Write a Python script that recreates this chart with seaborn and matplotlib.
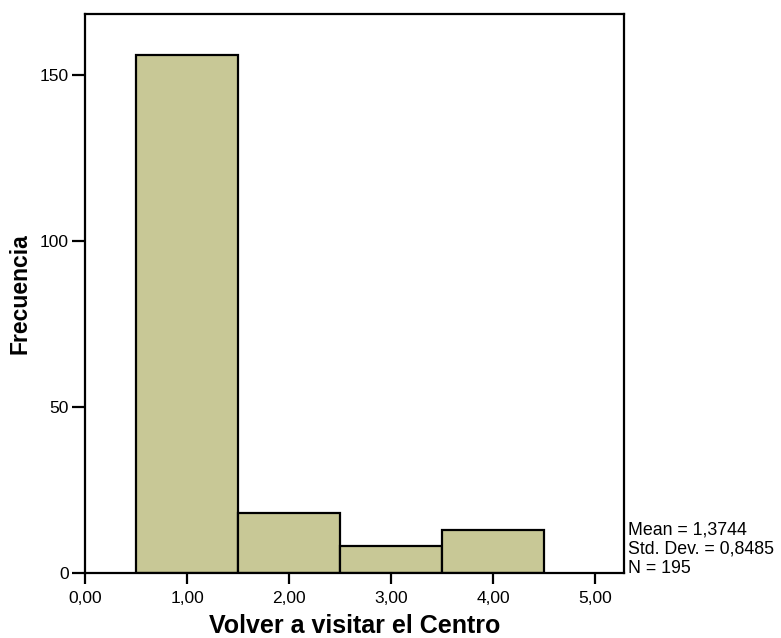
import matplotlib
matplotlib.use("Agg")
import matplotlib.pyplot as plt
import seaborn as sns
import numpy as np

# Responses to "Volver a visitar el Centro" and their frequencies
valores = [1, 2, 3, 4]
frecuencias = [156, 18, 8, 13]
x_ticks = [0, 1, 2, 3, 4, 5]
x_ticklabels = ["0,00", "1,00", "2,00", "3,00", "4,00", "5,00"]
y_ticks = [0, 50, 100, 150]
estadisticos = ["Mean = 1,3744", "Std. Dev. = 0,8485", "N = 195"]

sns.set_style("white")
plt.rcParams["font.family"] = ["Liberation Sans", "DejaVu Sans"]
plt.rcParams["text.color"] = "black"
plt.rcParams["axes.labelcolor"] = "black"

fig = plt.figure(figsize=(7.81, 6.38), dpi=100)
ax = fig.add_axes([0.1088, 0.1019, 0.6902, 0.8762])

sns.histplot(x=valores, weights=frecuencias, discrete=True, ax=ax,
             color="#C8C896", alpha=1.0, edgecolor="black", linewidth=1.6)

ax.set_xlim(0, 5.28)
ax.set_ylim(0, 168.4)
ax.set_xticks(x_ticks)
ax.set_xticklabels(x_ticklabels)
ax.set_yticks(y_ticks)
ax.tick_params(axis="both", direction="out", width=1.6, colors="black",
               labelsize=12.5, labelcolor="black", bottom=True, left=True)
ax.tick_params(axis="y", length=9.5, pad=2)
ax.tick_params(axis="x", length=8, pad=5)

for sp in ax.spines.values():
    sp.set_visible(True)
    sp.set_color("black")
    sp.set_linewidth(1.6)

ax.set_xlabel("Volver a visitar el Centro", fontsize=18, fontweight="bold",
              labelpad=5.5, color="black")
ax.set_ylabel("Frecuencia", fontsize=16.5, fontweight="bold", labelpad=6,
              color="black")

ax.text(1.008, -0.008, "\n".join(estadisticos), transform=ax.transAxes,
        ha="left", va="bottom", fontsize=12.8, linespacing=1.2, color="black")

fig.savefig("out.png", dpi=100)
